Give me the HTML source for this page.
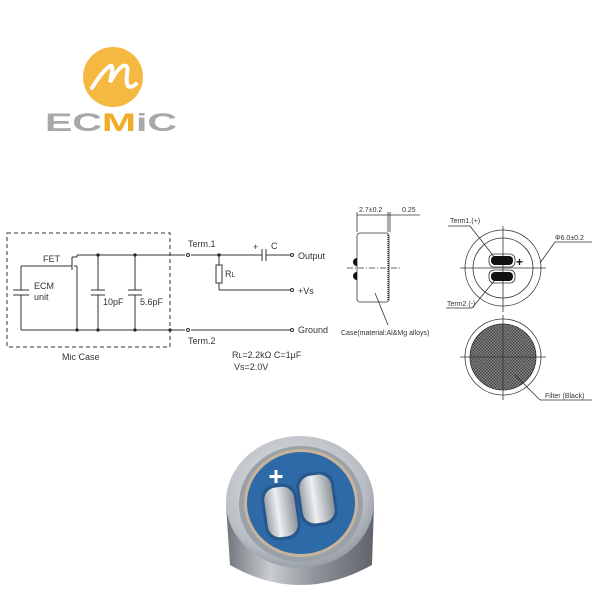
<!DOCTYPE html>
<html><head><meta charset="utf-8"><style>
html,body{margin:0;padding:0;background:#fff;width:600px;height:600px;overflow:hidden}
svg{display:block}
text{font-family:"Liberation Sans",sans-serif}
</style></head><body>
<svg width="600" height="600" viewBox="0 0 600 600" xmlns="http://www.w3.org/2000/svg">
<defs>
<pattern id="hatch" width="3" height="3" patternUnits="userSpaceOnUse">
<rect width="3" height="3" fill="#8a8a8a"/><rect width="1.5" height="1.5" fill="#444"/><rect x="1.5" y="1.5" width="1.5" height="1.5" fill="#444"/>
</pattern>
<radialGradient id="metal" cx="0.45" cy="0.4" r="0.7">
<stop offset="0" stop-color="#e8eaec"/><stop offset="0.7" stop-color="#b9bec4"/><stop offset="1" stop-color="#7d848c"/>
</radialGradient>
<linearGradient id="side" x1="0" x2="1">
<stop offset="0" stop-color="#6f757c"/><stop offset="0.3" stop-color="#c9cdd1"/><stop offset="0.6" stop-color="#8e949a"/><stop offset="1" stop-color="#5e646a"/>
</linearGradient>
<linearGradient id="pad" x1="0" x2="1">
<stop offset="0" stop-color="#9ea3a8"/><stop offset="0.4" stop-color="#eef0f2"/><stop offset="1" stop-color="#8c9298"/>
</linearGradient>
</defs>

<!-- Logo -->
<circle cx="113" cy="77" r="30" fill="#f5b942"/>
<path d="M92 88 C98 78 104 70 110 66 C114 64 112 74 110 82 C116 72 122 64 126 66 C130 68 124 80 128 86 C130 88 134 86 136 84" fill="none" stroke="#fff" stroke-width="4" stroke-linecap="round"/>
<text x="45" y="131" font-size="25" font-weight="bold" fill="#a8a8a8" textLength="132" lengthAdjust="spacingAndGlyphs">EC<tspan fill="#f1ac25">M</tspan>iC</text>

<!-- Circuit -->
<g stroke="#333" stroke-width="1" fill="none">
<rect x="7" y="233" width="163" height="114" stroke-dasharray="4,3"/>
<line x1="77" y1="255" x2="185" y2="255"/>
<line x1="191" y1="255" x2="262" y2="255"/>
<line x1="266" y1="255" x2="290" y2="255"/>
<line x1="262" y1="249" x2="262" y2="261"/>
<line x1="266" y1="249" x2="266" y2="261"/>
<line x1="219" y1="255" x2="219" y2="265"/>
<rect x="216" y="265" width="6" height="18"/>
<line x1="219" y1="283" x2="219" y2="290"/>
<line x1="219" y1="290" x2="290" y2="290"/>
<line x1="21" y1="330" x2="185" y2="330"/>
<line x1="191" y1="330" x2="290" y2="330"/>
<line x1="21" y1="266" x2="72" y2="266"/>
<line x1="21" y1="266" x2="21" y2="290"/>
<line x1="21" y1="295" x2="21" y2="330"/>
<line x1="13" y1="290" x2="29" y2="290"/>
<line x1="13" y1="295" x2="29" y2="295"/>
<line x1="72" y1="257" x2="72" y2="270"/>
<line x1="72" y1="257" x2="77" y2="257"/>
<line x1="77" y1="255" x2="77" y2="257"/>
<line x1="74" y1="266" x2="77" y2="266"/>
<line x1="77" y1="266" x2="77" y2="330"/>
<line x1="98" y1="255" x2="98" y2="290"/>
<line x1="98" y1="295" x2="98" y2="330"/>
<line x1="91" y1="290" x2="105" y2="290"/>
<line x1="91" y1="295" x2="105" y2="295"/>
<line x1="135" y1="255" x2="135" y2="290"/>
<line x1="135" y1="295" x2="135" y2="330"/>
<line x1="128" y1="290" x2="142" y2="290"/>
<line x1="128" y1="295" x2="142" y2="295"/>
<circle cx="188" cy="255" r="1.5"/><circle cx="188" cy="330" r="1.5"/>
<circle cx="292" cy="255" r="1.5"/><circle cx="292" cy="290" r="1.5"/><circle cx="292" cy="330" r="1.5"/>
</g>
<g fill="#222">
<circle cx="98" cy="255" r="1.6"/><circle cx="135" cy="255" r="1.6"/><circle cx="219" cy="255" r="1.6"/>
<circle cx="77" cy="330" r="1.6"/><circle cx="98" cy="330" r="1.6"/><circle cx="135" cy="330" r="1.6"/><circle cx="170" cy="330" r="1.6"/>
</g>
<g font-size="9" fill="#333">
<text x="43" y="262">FET</text>
<text x="34" y="289">ECM</text>
<text x="34" y="300">unit</text>
<text x="103" y="305">10pF</text>
<text x="140" y="305">5.6pF</text>
<text x="62" y="360">Mic Case</text>
<text x="188" y="247">Term.1</text>
<text x="188" y="344">Term.2</text>
<text x="253" y="250">+</text>
<text x="271" y="249">C</text>
<text x="298" y="259">Output</text>
<text x="225" y="277">R<tspan font-size="7">L</tspan></text>
<text x="298" y="294">+Vs</text>
<text x="298" y="333">Ground</text>
<text x="232" y="358">R<tspan font-size="7">L</tspan>=2.2kΩ  C=1μF</text>
<text x="234" y="370">Vs=2.0V</text>
</g>

<!-- Side view -->
<g stroke="#333" stroke-width="0.8" fill="none">
<rect x="357" y="233" width="32" height="69" rx="3" fill="#fff"/>
<line x1="388" y1="235" x2="388" y2="300" stroke-dasharray="1,1" stroke-width="1.5"/>
<line x1="357" y1="212" x2="357" y2="232"/>
<line x1="388" y1="212" x2="388" y2="232"/>
<line x1="390" y1="212" x2="390" y2="232"/>
<line x1="357" y1="215" x2="420" y2="215"/>
<line x1="347" y1="268" x2="402" y2="268" stroke-dasharray="6,2,1,2"/>
<line x1="375" y1="293" x2="388" y2="325"/>
</g>
<path d="M357 258 a4 4 0 0 0 0 8z M357 272 a4 4 0 0 0 0 8z" fill="#111"/>
<g font-size="7" fill="#333">
<text x="359" y="212">2.7±0.2</text>
<text x="402" y="212">0.25</text>
<text x="341" y="335">Case(material:Al&amp;Mg alloys)</text>
</g>

<!-- Top view -->
<g stroke="#333" stroke-width="0.8" fill="none">
<circle cx="503" cy="268" r="38"/>
<circle cx="503" cy="268" r="30"/>
<line x1="460" y1="268" x2="546" y2="268"/>
<line x1="503" y1="226" x2="503" y2="312"/>
<rect x="489" y="254" width="26" height="13" rx="5"/>
<rect x="489" y="270" width="26" height="13" rx="5"/>
<line x1="470" y1="226" x2="495" y2="258"/>
<line x1="448" y1="226" x2="470" y2="226"/>
<line x1="472" y1="308" x2="495" y2="280"/>
<line x1="446" y1="308" x2="472" y2="308"/>
<line x1="540" y1="263" x2="555" y2="242"/>
<line x1="555" y1="242" x2="592" y2="242"/>
</g>
<rect x="491" y="256" width="22" height="9" rx="4" fill="#111"/>
<rect x="491" y="272" width="22" height="9" rx="4" fill="#111"/>
<text x="516" y="266" font-size="12" font-weight="bold" fill="#111">+</text>
<g font-size="7" fill="#333">
<text x="450" y="223">Term1.(+)</text>
<text x="555" y="240">Φ6.0±0.2</text>
<text x="447" y="306">Term2.(-)</text>
<text x="545" y="398">Filter (Black)</text>
</g>

<!-- Bottom view -->
<circle cx="503" cy="357" r="38" fill="#fff" stroke="#333" stroke-width="0.8"/>
<circle cx="503" cy="357" r="33" fill="url(#hatch)" stroke="#333" stroke-width="0.8"/>
<g stroke="#333" stroke-width="0.8">
<line x1="460" y1="357" x2="546" y2="357"/>
<line x1="503" y1="315" x2="503" y2="400"/>
<line x1="515" y1="375" x2="540" y2="400"/>
<line x1="540" y1="400" x2="592" y2="400"/>
</g>

<!-- Photo -->
<path d="M226 505 L230 565 Q300 605 372 565 L374 505 Z" fill="url(#side)"/>
<ellipse cx="300" cy="502" rx="74" ry="66" fill="url(#metal)"/>
<ellipse cx="301" cy="504" rx="62" ry="58" fill="#9aa1a8"/>
<ellipse cx="301" cy="503" rx="57" ry="54" fill="#c8b49a"/>
<ellipse cx="301" cy="503" rx="54" ry="51" fill="#2f6aa8"/>
<path d="M276 470 v13 M269.5 476.5 h13" stroke="#fff" stroke-width="3"/>
<rect x="263" y="484" width="36" height="56" rx="14" fill="#27588d" transform="rotate(-8 281 512)"/>
<rect x="266" y="487" width="30" height="50" rx="12" fill="url(#pad)" transform="rotate(-8 281 512)"/>
<rect x="298" y="472" width="38" height="54" rx="14" fill="#27588d" transform="rotate(-8 317 499)"/>
<rect x="301" y="475" width="32" height="48" rx="12" fill="url(#pad)" transform="rotate(-8 317 499)"/>
</svg>
</body></html>
